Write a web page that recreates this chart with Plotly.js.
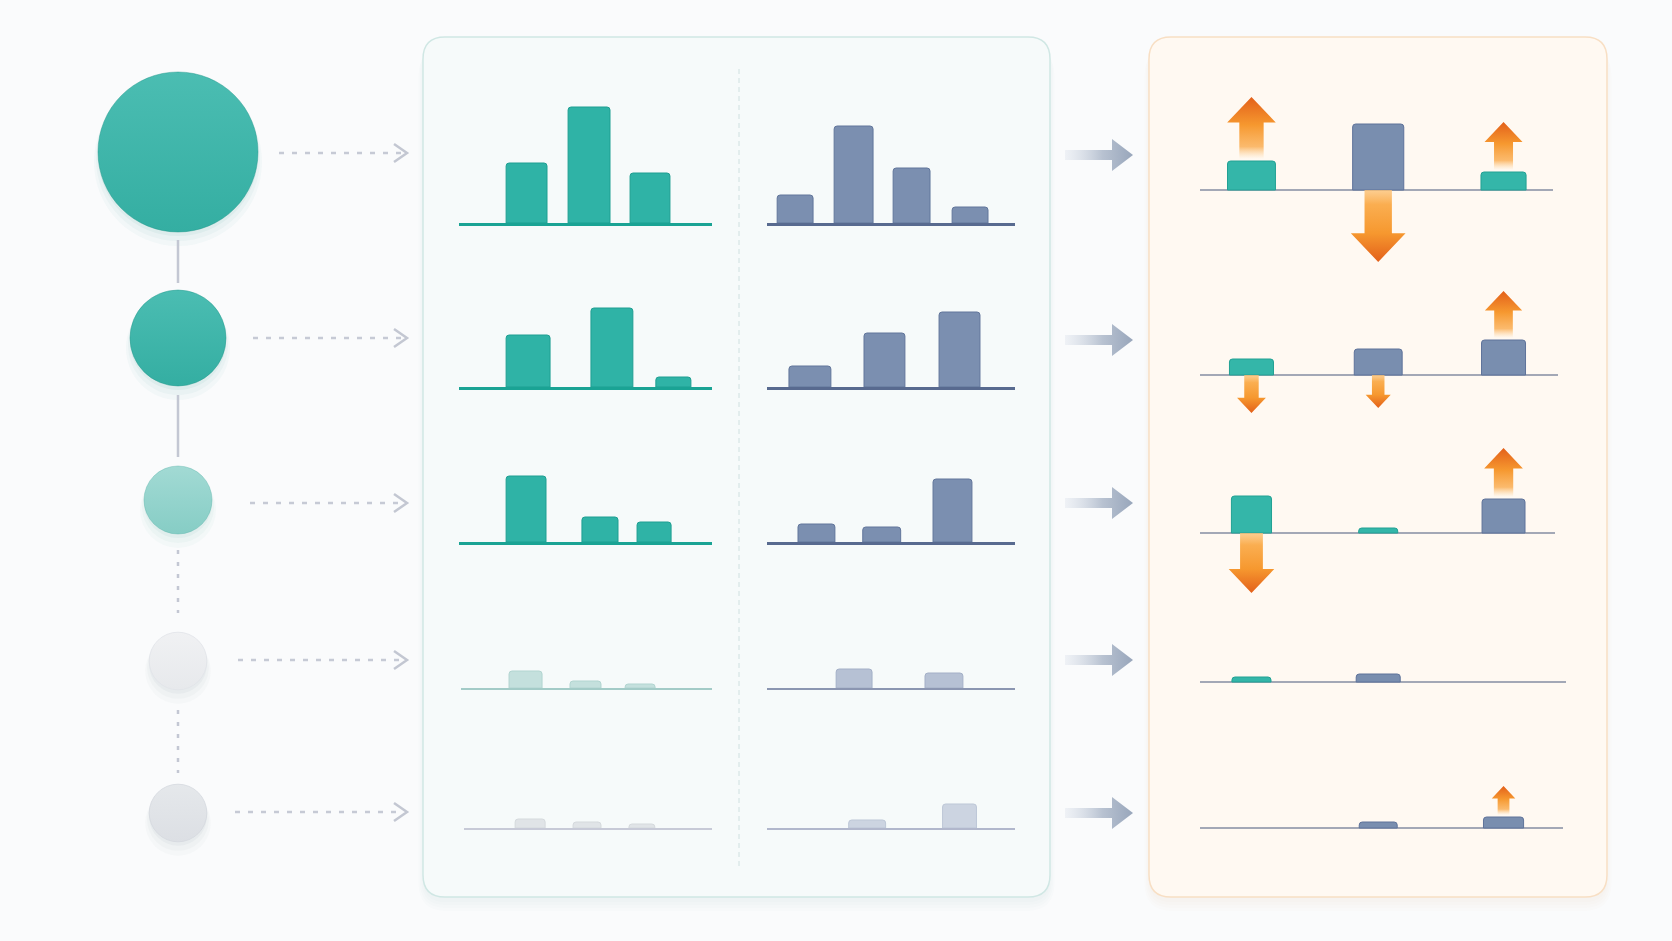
<!DOCTYPE html>
<html><head><meta charset="utf-8">
<script src="https://cdn.plot.ly/plotly-3.0.1.min.js"></script>
<style>html,body{margin:0;padding:0;background:#fafbfc;}#chart{width:1672px;height:941px;}</style>
</head><body><div id="chart"></div>
<script>
// ================= DATA =================
// relative weight of each stage (circle size)
const stageWeight = [1.0, 0.6, 0.425, 0.36, 0.36];

// left distribution (teal): bin centres and values per stage
const tealBins   = [[2.66,5.12,7.52],[2.72,6.02,8.44],[2.64,5.55,7.68],[2.62,4.98,7.13],[2.80,5.04,7.20]];
const tealValues = [[60,116,50],[52,79,10],[66,25,20],[17,7,4],[9,6,4]];

// right distribution (navy): bin centres and values per stage
const navyBins   = [[1.12,3.45,5.76,8.09],[1.71,4.68,7.67],[1.97,4.57,7.39],[3.47,7.05],[3.99,7.67]];
const navyValues = [[28,97,55,16],[21,54,75],[18,15,63],[19,15],[8,24]];

// difference panel: three slots, which source each bar comes from, its value and the change
const diffSlots  = [1.45, 5.02, 8.55];
const diffKinds  = [['teal','navy','teal'],['teal','navy','navy'],['teal','teal','navy'],['teal','navy',null],[null,'navy','navy']];
const diffValues = [[29,66,18],[16,26,35],[37,5,34],[5,8,null],[null,6,11]];
const diffShift  = [[64,-72,50],[-38,-33,49],[-60,0,51],[0,0,0],[0,0,31]];

// ================= LAYOUT / STYLE =================
const W = 1672, H = 941;
const nodeX = 178, nodeY = [152, 338, 500, 661, 813], nodeMaxSize = 160;
const dotStart = [279, 253, 250, 238, 235], dotEnd = 407, dotY = [153, 338, 503, 660, 812];
const bigArrowY = [155, 340, 503, 660, 813];
const midBase = [223, 387, 542, 688, 828];
const rightBase = [190, 375, 533, 682, 828];
const tealAxisStart = [459, 459, 459, 461, 464], tealAxisEnd = 712, tealPx = 25.4;
const navyAxisStart = 767, navyAxisEnd = 1015, navyPx = 25.1;
const rightAxisStart = 1200, rightAxisEnd = [1553, 1558, 1555, 1566, 1563], rightPx = 35.5;

const tealWidths = [[1.61,1.65,1.57],[1.73,1.65,1.38],[1.57,1.42,1.34],[1.3,1.22,1.18],[1.18,1.1,1.02]];
const navyWidths = [[1.43,1.55,1.47,1.43],[1.67,1.63,1.63],[1.47,1.51,1.55],[1.43,1.51],[1.47,1.35]];
const diffWidths = [[1.35,1.44,1.27],[1.24,1.35,1.24],[1.13,1.10,1.21],[1.10,1.24,1.1],[1.1,1.07,1.13]];

const tealStyle = [
  {fill:'#2fb3a6', line:'#1f9f92', axis:'#1aa394', aw:2.5},
  {fill:'#2fb3a6', line:'#1f9f92', axis:'#1aa394', aw:2.5},
  {fill:'#2fb3a6', line:'#1f9f92', axis:'#1aa394', aw:2.5},
  {fill:'#c4e0dd', line:'#b2d5d1', axis:'#a3cbc7', aw:2},
  {fill:'#e0e4e7', line:'#d5dadd', axis:'#c7cad7', aw:2}
];
const navyStyle = [
  {fill:'#7b8fb0', line:'#62769b', axis:'#586a8f', aw:2.5},
  {fill:'#7b8fb0', line:'#62769b', axis:'#586a8f', aw:2.5},
  {fill:'#7b8fb0', line:'#62769b', axis:'#586a8f', aw:2.5},
  {fill:'#b6c1d4', line:'#a4b0c7', axis:'#8b96b1', aw:2},
  {fill:'#ccd4e1', line:'#bdc7d7', axis:'#b1b7cc', aw:2}
];
const diffColor = {teal:{fill:'#34b6a9', line:'#22a194'}, navy:{fill:'#798eaf', line:'#5f739a'}};
const nodeStyle = [
  {top:'#4bbdb2', bottom:'#34aea2', line:'rgba(30,150,138,0.45)', shadow:'rgba(40,150,140,'},
  {top:'#4bbdb2', bottom:'#34aea2', line:'rgba(30,150,138,0.45)', shadow:'rgba(40,150,140,'},
  {top:'#a2dad4', bottom:'#86cdc5', line:'rgba(90,180,170,0.4)', shadow:'rgba(60,160,150,'},
  {top:'#f0f1f3', bottom:'#e7e9ec', line:'rgba(225,228,232,0.8)', shadow:'rgba(120,130,150,'},
  {top:'#e5e8eb', bottom:'#dcdfe4', line:'rgba(212,216,222,0.8)', shadow:'rgba(120,130,150,'}
];

const P = (x,y) => `${(x/W).toFixed(5)},${(1-y/H).toFixed(5)}`;
function rr(x0,y0,x1,y1,r){
  return `M${P(x0+r,y0)} L${P(x1-r,y0)} Q${P(x1,y0)} ${P(x1,y0+r)} L${P(x1,y1-r)} Q${P(x1,y1)} ${P(x1-r,y1)} L${P(x0+r,y1)} Q${P(x0,y1)} ${P(x0,y1-r)} L${P(x0,y0+r)} Q${P(x0,y0)} ${P(x0+r,y0)} Z`;
}

const layout = {
  width: W, height: H, margin:{l:0,r:0,t:0,b:0},
  paper_bgcolor:'#fafbfc', plot_bgcolor:'rgba(0,0,0,0)',
  showlegend:false, barmode:'overlay', hovermode:false,
  xaxis:{domain:[0,1], range:[0,W], visible:false, fixedrange:true},
  yaxis:{domain:[0,1], range:[H,0], visible:false, fixedrange:true},
  shapes:[]
};
const data = [];
let n = 1;
function newSub(x0,x1,xr,yTop,yBot,yr,xo,yo){
  n++;
  layout['xaxis'+n] = Object.assign({domain:[x0/W,x1/W], range:xr, anchor:'y'+n, showgrid:false, zeroline:false, showticklabels:false, ticks:'', fixedrange:true, showline:false}, xo||{});
  layout['yaxis'+n] = Object.assign({domain:[1-yBot/H,1-yTop/H], range:yr, anchor:'x'+n, showgrid:false, zeroline:false, showticklabels:false, ticks:'', fixedrange:true, showline:false}, yo||{});
  return ['x'+n,'y'+n];
}

// ---- panels (below everything) ----
function shadow(x0,y0,x1,y1,r,col){
  for(let k=0;k<4;k++){
    layout.shapes.push({type:'path', xref:'paper', yref:'paper', layer:'below',
      path: rr(x0-k*1.5, y0+5+k*2, x1+k*1.5, y1+5+k*3, r+k*2), fillcolor: col+(0.016)+')', line:{width:0}});
  }
}
shadow(423,37,1050,897,22,'rgba(80,140,140,');
shadow(1149,37,1607,897,22,'rgba(200,140,80,');
layout.shapes.push({type:'path', xref:'paper', yref:'paper', layer:'below', path: rr(423,37,1050,897,22), fillcolor:'#f6fafa', line:{color:'#d0e7e4', width:1.5}});
layout.shapes.push({type:'path', xref:'paper', yref:'paper', layer:'below', path: rr(1149,37,1607,897,22), fillcolor:'#fff9f2', line:{color:'#f8dfc4', width:1.5}});
// middle divider
layout.shapes.push({type:'line', xref:'paper', yref:'paper', layer:'below', x0:739/W, x1:739/W, y0:1-69/H, y1:1-866/H, line:{color:'#d6e5e5', width:1.2, dash:'5px,4px'}});

// ---- connectors between stages ----
const conn = [[240,283,'solid'],[395,457,'solid'],[550,613,'4px,8px'],[710,773,'4px,8px']];
conn.forEach(c=>{
  layout.shapes.push({type:'line', xref:'paper', yref:'paper', x0:nodeX/W, x1:nodeX/W, y0:1-c[0]/H, y1:1-c[1]/H, line:{color:'#c3c7d3', width:2.5, dash:c[2]}});
});
// ---- dotted arrows ----
dotY.forEach((y,i)=>{
  layout.shapes.push({type:'line', xref:'paper', yref:'paper', x0:dotStart[i]/W, x1:(dotEnd-3)/W, y0:1-y/H, y1:1-y/H, line:{color:'#c6cad5', width:2.5, dash:'5px,8px'}});
  layout.shapes.push({type:'path', xref:'paper', yref:'paper', path:`M${P(dotEnd-13,y-9)} L${P(dotEnd,y)} L${P(dotEnd-13,y+9)}`, line:{color:'#c3c7d2', width:2.5}, fillcolor:'rgba(0,0,0,0)'});
});

// ---- stage circles ----
stageWeight.forEach((w,i)=>{
  const s = w*nodeMaxSize, st = nodeStyle[i];
  [[s+8,10,0.035],[s+4,7,0.045],[s,4,0.06]].forEach(l=>{
    data.push({type:'scatter', mode:'markers', x:[nodeX], y:[nodeY[i]+l[1]], xaxis:'x', yaxis:'y',
      marker:{size:l[0], color:st.shadow+l[2]+')', line:{width:0}}, hoverinfo:'skip'});
  });
  data.push({type:'scatter', mode:'markers', x:[nodeX], y:[nodeY[i]], xaxis:'x', yaxis:'y',
    marker:{size:s, color:st.top, gradient:{type:'vertical', color:st.bottom}, line:{width:1, color:st.line}}, hoverinfo:'skip'});
});

// ---- transfer arrows ----
bigArrowY.forEach(y=>{
  const xs=[1065,1112,1112,1133,1112,1112,1065,1065], ys=[y-5,y-5,y-16,y,y+16,y+5,y+5,y-5];
  data.push({type:'scatter', mode:'lines', x:xs, y:ys, xaxis:'x', yaxis:'y', fill:'toself', line:{width:0},
    fillgradient:{type:'horizontal', colorscale:[[0,'rgba(218,224,234,0.35)'],[0.55,'#b8c2d1'],[1,'#98a6bb']]}, hoverinfo:'skip'});
});

// ---- middle panel mini histograms ----
for(let r=0;r<5;r++){
  const ts = tealStyle[r], ns = navyStyle[r];
  const [tx,ty] = newSub(tealAxisStart[r], tealAxisEnd, [(tealAxisStart[r]-459)/tealPx, (tealAxisEnd-459)/tealPx], midBase[r]-130, midBase[r], [0,130],
    {showline:true, linecolor:ts.axis, linewidth:ts.aw});
  data.push({type:'bar', x:tealBins[r], y:tealValues[r], width:tealWidths[r], xaxis:tx, yaxis:ty,
    marker:{color:ts.fill, line:{color:ts.line, width:1}, cornerradius:3}, hoverinfo:'skip'});
  const [nx,ny] = newSub(navyAxisStart, navyAxisEnd, [0,(navyAxisEnd-navyAxisStart)/navyPx], midBase[r]-130, midBase[r], [0,130],
    {showline:true, linecolor:ns.axis, linewidth:ns.aw});
  data.push({type:'bar', x:navyBins[r], y:navyValues[r], width:navyWidths[r], xaxis:nx, yaxis:ny,
    marker:{color:ns.fill, line:{color:ns.line, width:1}, cornerradius:3}, hoverinfo:'skip'});
}

// ---- difference panel ----
const upScale = [[0,'rgba(253,205,140,0)'],[0.2,'rgba(250,170,75,0.8)'],[0.55,'#f6982f'],[1,'#e3601a']];
const downScale = [[0,'#e3601a'],[0.4,'#f6982f'],[0.8,'rgba(250,170,72,0.95)'],[1,'rgba(252,195,120,0.8)']];
for(let r=0;r<5;r++){
  const [rx,ry] = newSub(rightAxisStart, rightAxisEnd[r], [0,(rightAxisEnd[r]-rightAxisStart)/rightPx], rightBase[r]-100, rightBase[r]+80, [-80,100],
    {}, {zeroline:true, zerolinecolor:'#a3a8b6', zerolinewidth:2});
  ['teal','navy'].forEach(kind=>{
    const xs=[], ys=[], ws=[];
    diffKinds[r].forEach((k,i)=>{ if(k===kind && diffValues[r][i]!=null){ xs.push(diffSlots[i]); ys.push(diffValues[r][i]); ws.push(diffWidths[r][i]); }});
    if(xs.length) data.push({type:'bar', x:xs, y:ys, width:ws, xaxis:rx, yaxis:ry,
      marker:{color:diffColor[kind].fill, line:{color:diffColor[kind].line, width:1}, cornerradius:3}, hoverinfo:'skip'});
  });
  diffShift[r].forEach((d,i)=>{
    if(!d) return;
    const L = Math.abs(d), cx = diffSlots[i];
    const base = d>0 ? (diffValues[r][i]||0) + 2 : 0, tip = (d>0 ? (diffValues[r][i]||0) : 0) + d, sgn = Math.sign(d);
    const hw = 0.76*L/2/rightPx, sw = hw*0.5, hh = 0.4*L*sgn;
    const xs=[cx-sw, cx-sw, cx-hw, cx, cx+hw, cx+sw, cx+sw, cx-sw];
    const ys=[base, tip-hh, tip-hh, tip, tip-hh, tip-hh, base, base];
    data.push({type:'scatter', mode:'lines', x:xs, y:ys, xaxis:rx, yaxis:ry, fill:'toself', line:{width:0},
      fillgradient:{type:'vertical', colorscale: d>0?upScale:downScale}, hoverinfo:'skip'});
  });
}

Plotly.newPlot('chart', data, layout, {staticPlot:true, displayModeBar:false});
</script>
</body></html>
